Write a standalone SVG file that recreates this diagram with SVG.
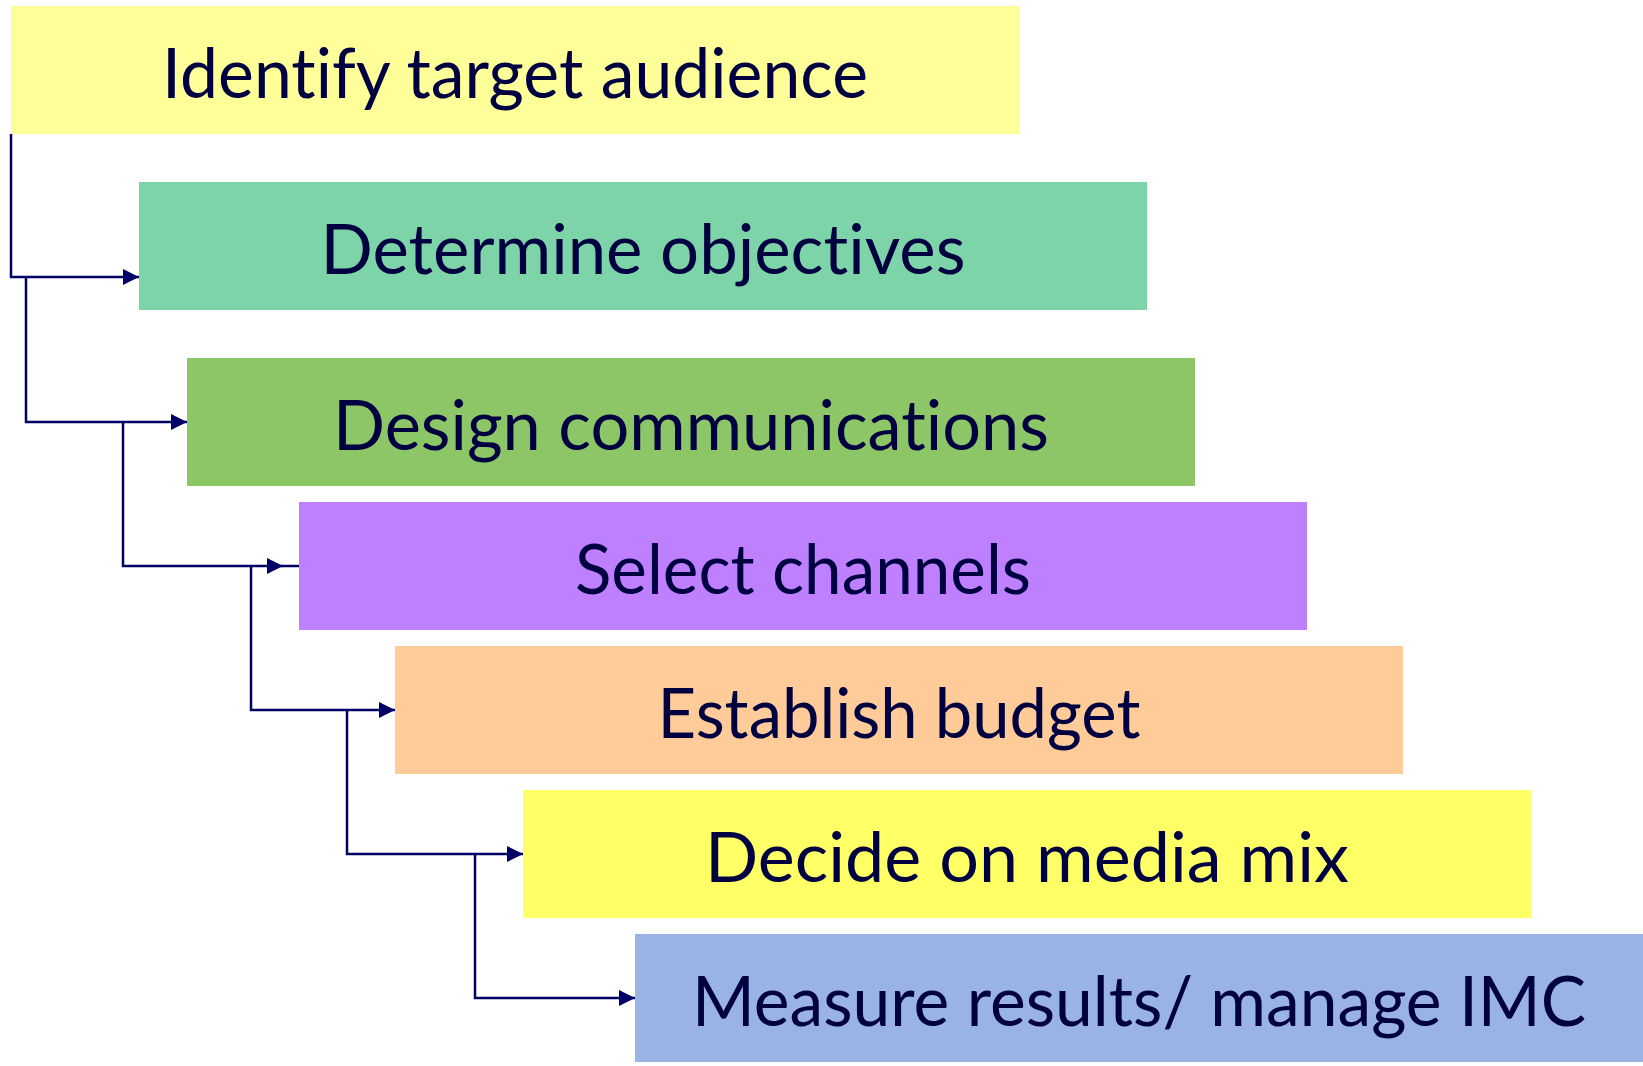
<svg xmlns="http://www.w3.org/2000/svg" width="1643" height="1066" viewBox="0 0 1643 1066">
<style>
.lbl{font-family:"Lato","Open Sans","Liberation Sans",sans-serif;font-size:70px;fill:#000040;text-anchor:middle;font-variant-ligatures:none;font-feature-settings:"liga" 0,"clig" 0,"dlig" 0}
.con{fill:none;stroke:#000066;stroke-width:2.5}
</style>
<defs>
<marker id="arr" markerUnits="userSpaceOnUse" markerWidth="16" markerHeight="16" refX="16" refY="8" orient="auto">
<path d="M0,0 L16,8 L0,16 Z" fill="#000066"/>
</marker>
</defs>
<rect width="1643" height="1066" fill="#ffffff"/>
<g id="n1"><rect x="11" y="6" width="1008" height="128" fill="#FFFF99"/><text class="lbl" x="515" y="98" textLength="706" lengthAdjust="spacingAndGlyphs">Identify target audience</text></g>
<g id="n2"><rect x="139" y="182" width="1008" height="128" fill="#7DD4A8"/><text class="lbl" x="643" y="274" textLength="645" lengthAdjust="spacingAndGlyphs">Determine objectives</text></g>
<g id="n3"><rect x="187" y="358" width="1008" height="128" fill="#8DC666"/><text class="lbl" x="691" y="450" textLength="716" lengthAdjust="spacingAndGlyphs">Design communications</text></g>
<g id="n4"><rect x="299" y="502" width="1008" height="128" fill="#BF80FF"/><text class="lbl" x="803" y="594" textLength="456" lengthAdjust="spacingAndGlyphs">Select channels</text></g>
<g id="n5"><rect x="395" y="646" width="1008" height="128" fill="#FFCC99"/><text class="lbl" x="899" y="738" textLength="483" lengthAdjust="spacingAndGlyphs">Establish budget</text></g>
<g id="n6"><rect x="523" y="790" width="1008" height="128" fill="#FFFF66"/><text class="lbl" x="1027" y="882" textLength="644" lengthAdjust="spacingAndGlyphs">Decide on media mix</text></g>
<g id="n7"><rect x="635" y="934" width="1008" height="128" fill="#99B3E5"/><text class="lbl" x="1139" y="1026" textLength="894" lengthAdjust="spacingAndGlyphs">Measure results/ manage IMC</text></g>
<g id="connectors">
<path class="con" d="M11,134 V277 H139" marker-end="url(#arr)"/>
<path class="con" d="M26,277 V422 H187" marker-end="url(#arr)"/>
<path class="con" d="M123,422 V566 H283" marker-end="url(#arr)"/>
<path class="con" d="M282,566 H299"/>
<path class="con" d="M251,566 V710 H395" marker-end="url(#arr)"/>
<path class="con" d="M347,710 V854 H523" marker-end="url(#arr)"/>
<path class="con" d="M475,854 V998 H635" marker-end="url(#arr)"/>
</g>
</svg>
